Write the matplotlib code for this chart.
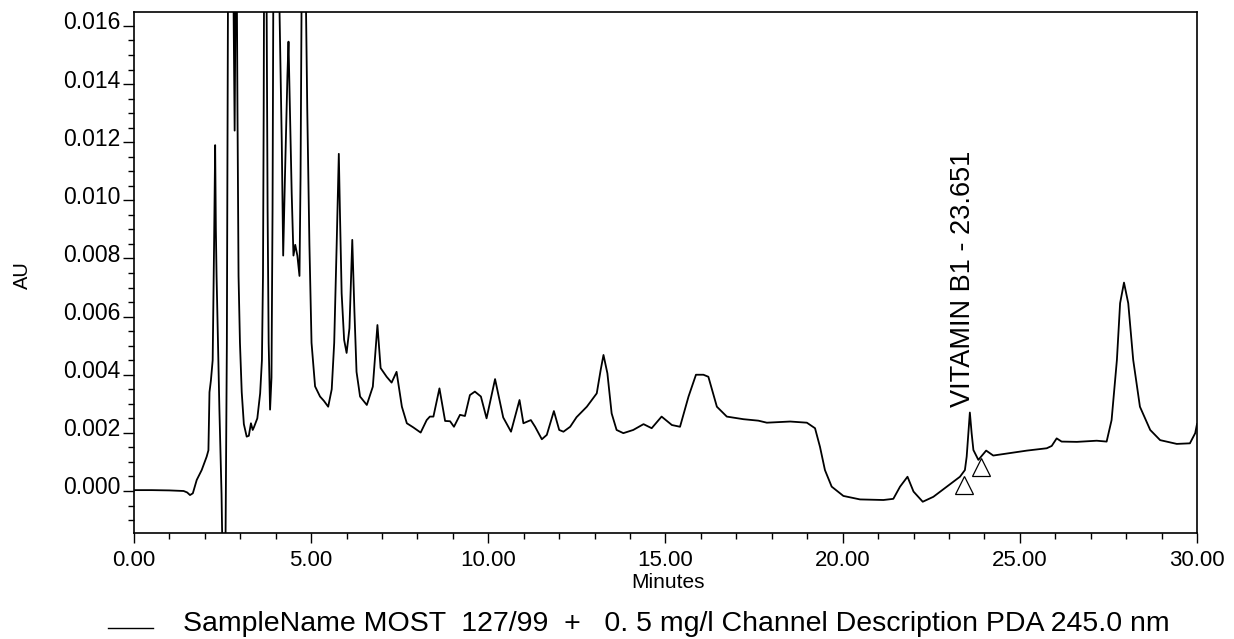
import numpy as np
import matplotlib
matplotlib.use("Agg")
import matplotlib.pyplot as plt
from matplotlib.lines import Line2D
from matplotlib.transforms import ScaledTranslation

plt.rcParams['font.family'] = ['Liberation Sans', 'DejaVu Sans']

# retention time (min) and absorbance (AU)
time_min = [
    0.00, 0.50, 1.00, 1.40, 1.50, 1.58, 1.66, 1.77, 1.91, 2.05, 2.10, 2.13, 2.17, 2.22,
    2.26, 2.29, 2.31, 2.33, 2.41, 2.47, 2.52, 2.57, 2.62, 2.66, 2.72, 2.80, 2.84, 2.87,
    2.89, 2.92, 2.95, 2.99, 3.04, 3.10, 3.18, 3.24, 3.30, 3.35, 3.39, 3.48, 3.56, 3.61,
    3.64, 3.66, 3.70, 3.73, 3.77, 3.80, 3.84, 3.88, 3.91, 3.94, 4.02, 4.10, 4.17, 4.21,
    4.26, 4.33, 4.36, 4.40, 4.45, 4.50, 4.55, 4.61, 4.67, 4.70, 4.73, 4.79, 4.85, 4.89,
    4.95, 5.01, 5.11, 5.25, 5.36, 5.48, 5.58, 5.65, 5.72, 5.78, 5.81, 5.86, 5.93, 6.00,
    6.08, 6.16, 6.22, 6.28, 6.38, 6.57, 6.74, 6.87, 6.96, 7.13, 7.27, 7.41, 7.56, 7.70,
    7.88, 8.09, 8.26, 8.35, 8.45, 8.62, 8.78, 8.92, 9.03, 9.20, 9.34, 9.48, 9.62, 9.79,
    9.95, 10.19, 10.42, 10.64, 10.88, 10.99, 11.20, 11.32, 11.51, 11.65, 11.85, 12.00,
    12.12, 12.31, 12.49, 12.78, 13.06, 13.17, 13.25, 13.36, 13.48, 13.62, 13.81, 14.09,
    14.38, 14.61, 14.89, 15.18, 15.41, 15.65, 15.86, 16.07, 16.21, 16.45, 16.73, 17.20,
    17.62, 17.86, 18.52, 18.99, 19.22, 19.36, 19.50, 19.69, 20.02, 20.49, 21.15, 21.43,
    21.62, 21.83, 22.00, 22.26, 22.56, 22.94, 23.31, 23.45, 23.50, 23.59, 23.64, 23.69,
    23.83, 24.05, 24.25, 24.70, 25.20, 25.76, 25.90, 26.04, 26.18, 26.61, 27.17, 27.45,
    27.59, 27.74, 27.83, 27.94, 28.06, 28.20, 28.39, 28.68, 28.96, 29.43, 29.80, 29.95,
    30.00,
]
absorbance = [
    0.00003, 0.00003, 0.00002, 0.00000, -0.00005, -0.00014, -0.00008, 0.00038, 0.00072,
    0.00118, 0.00140, 0.0034, 0.0038, 0.0045, 0.0085, 0.0119, 0.0090, 0.0074, 0.0028,
    -0.0001, -0.0040, -0.0040, 0.0050, 0.0200, 0.0260, 0.0180, 0.0124, 0.0180, 0.0200,
    0.0131, 0.0074, 0.0051, 0.0034, 0.0023, 0.00187, 0.0019, 0.00233, 0.0021, 0.00221,
    0.0025, 0.00336, 0.0045, 0.0074, 0.0131, 0.0300, 0.0200, 0.0097, 0.0051, 0.0028,
    0.0039, 0.0097, 0.0200, 0.0250, 0.0170, 0.0120, 0.0081, 0.0108, 0.0143, 0.01546,
    0.0131, 0.01025, 0.0081, 0.00847, 0.0081, 0.0074, 0.0108, 0.0170, 0.0300, 0.0170,
    0.0131, 0.0085, 0.0051, 0.0036, 0.00325, 0.0031, 0.0029, 0.0035, 0.0051, 0.0085,
    0.0116, 0.0097, 0.0068, 0.0052, 0.00475, 0.0056, 0.00864, 0.0062, 0.0041, 0.00325,
    0.00296, 0.00359, 0.00571, 0.00423, 0.00393, 0.00373, 0.0041, 0.0029, 0.00233,
    0.00219, 0.00201, 0.00244, 0.00256, 0.00256, 0.00353, 0.00241, 0.0024, 0.00221,
    0.00262, 0.00258, 0.0033, 0.00342, 0.00325, 0.0025, 0.00385, 0.00253, 0.00204,
    0.00313, 0.00233, 0.00244, 0.00221, 0.00178, 0.00193, 0.00275, 0.0021, 0.00204,
    0.00221, 0.00254, 0.0029, 0.00336, 0.00416, 0.00468, 0.00405, 0.00267, 0.0021,
    0.00199, 0.0021, 0.0023, 0.00216, 0.00256, 0.00227, 0.00221, 0.00325, 0.0040,
    0.0040, 0.00393, 0.0029, 0.00256, 0.00247, 0.00242, 0.00235, 0.00239, 0.00235,
    0.00216, 0.00152, 0.00072, 0.00015, -0.00017, -0.00029, -0.00031, -0.00027,
    0.00015, 0.00049, -0.00002, -0.00037, -0.0002, 0.00015, 0.00049, 0.00072, 0.00118,
    0.00270, 0.00199, 0.00141, 0.00107, 0.00139, 0.00122, 0.00130, 0.00139, 0.00147,
    0.00155, 0.00181, 0.0017, 0.00169, 0.00173, 0.0017, 0.00244, 0.00451, 0.00646,
    0.00717, 0.00646, 0.00451, 0.0029, 0.0021, 0.00175, 0.00162, 0.00164, 0.00199,
    0.0023,
]

# integration baseline markers
marker_t = [23.43, 23.91]
marker_au = [0.00022, 0.00084]

peak_label = "VITAMIN B1 - 23.651"
peak_t = 23.40
peak_au = 0.0029

x_ticks = [0, 5, 10, 15, 20, 25, 30]
y_ticks = [0.000, 0.002, 0.004, 0.006, 0.008, 0.010, 0.012, 0.014, 0.016]
legend_text = "SampleName MOST  127/99  +   0. 5 mg/l Channel Description PDA 245.0 nm"

fig = plt.figure(figsize=(12.34, 6.39), dpi=100)
ax = fig.add_axes([0.1086, 0.1659, 0.8614, 0.8153])

ax.plot(time_min, absorbance, color='black', lw=1.3)
ax.plot(marker_t, marker_au, linestyle='none', marker='^', markersize=13,
        markerfacecolor='none', markeredgecolor='black', markeredgewidth=0.9)
ax.text(peak_t, peak_au, peak_label, rotation=90, ha='center', va='bottom', fontsize=19.5)

ax.set_xlim(0, 30)
ax.set_ylim(-0.001445, 0.01648)
ax.set_xticks(x_ticks)
ax.set_xticklabels([f"{v:.2f}" for v in x_ticks], fontsize=16)
ax.set_xticks(np.arange(0, 31, 1), minor=True)
ax.set_yticks(y_ticks)
ax.set_yticklabels([f"{v:.3f}" for v in y_ticks], fontsize=16.5)
ax.set_yticks(np.arange(-0.001, 0.0165, 0.0005), minor=True)
ax.tick_params(axis='x', which='major', length=7, width=1, pad=5)
ax.tick_params(axis='x', which='minor', length=4, width=1)
ax.tick_params(axis='y', which='major', length=8, width=1, pad=2)
ax.tick_params(axis='y', which='minor', length=4, width=1)
for lab in ax.get_yticklabels():
    lab.set_transform(lab.get_transform() + ScaledTranslation(0, 4 / 72, fig.dpi_scale_trans))
for sp in ax.spines.values():
    sp.set_linewidth(1.2)

fig.text(0.018, 0.57, "AU", rotation=90, ha='center', va='center', fontsize=14.5)
fig.text(0.541, 0.089, "Minutes", ha='center', va='center', fontsize=15)

fig.add_artist(Line2D([108 / 1234, 153 / 1234], [0.017, 0.017], color='black', lw=1))
fig.text(183 / 1234, 0.024, legend_text, ha='left', va='center', fontsize=20.5)

fig.savefig("out.png", dpi=100)
